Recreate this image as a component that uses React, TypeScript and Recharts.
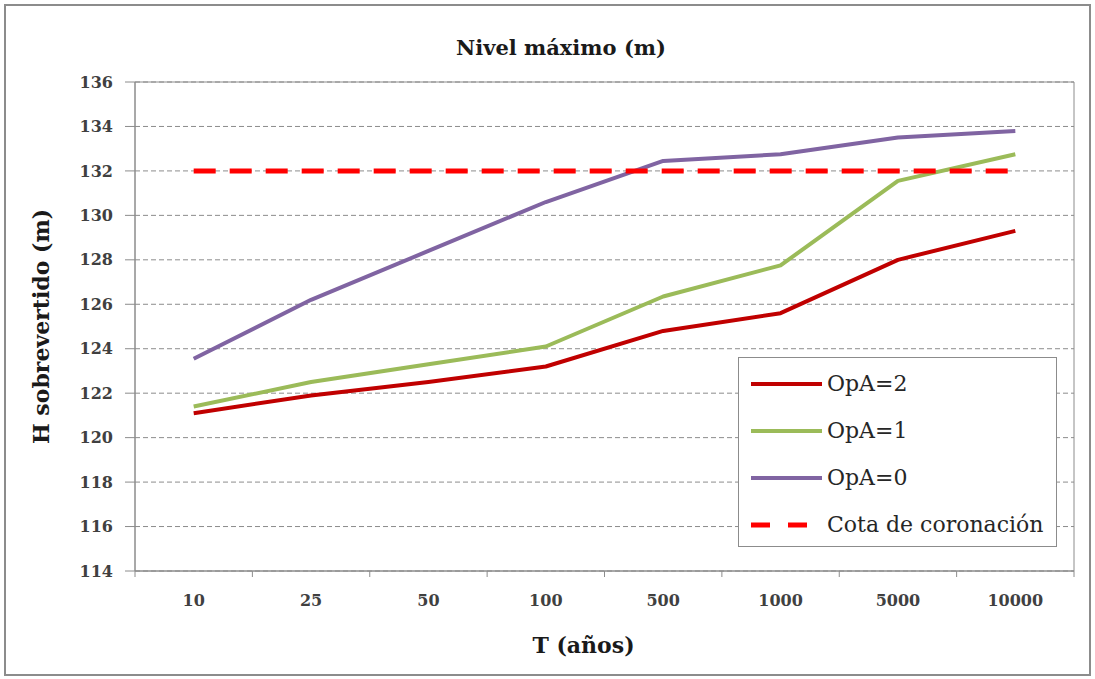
import { LineChart, Line, XAxis, YAxis, CartesianGrid, Legend, ReferenceArea } from 'recharts';

const periods = ['10', '25', '50', '100', '500', '1000', '5000', '10000'];
const opA2 = [121.1, 121.9, 122.5, 123.2, 124.8, 125.6, 128.0, 129.3];
const opA1 = [121.4, 122.5, 123.3, 124.1, 126.35, 127.75, 131.55, 132.75];
const opA0 = [123.55, 126.2, 128.4, 130.6, 132.45, 132.75, 133.5, 133.8];
const cota = [132, 132, 132, 132, 132, 132, 132, 132];
const yTicks = [114, 116, 118, 120, 122, 124, 126, 128, 130, 132, 134, 136];

const series = [
  { key: 'opA2', name: 'OpA=2', color: '#C00000', width: 4, dash: undefined as string | undefined },
  { key: 'opA1', name: 'OpA=1', color: '#9BBB59', width: 4, dash: undefined },
  { key: 'opA0', name: 'OpA=0', color: '#8064A2', width: 4, dash: undefined },
  { key: 'cota', name: 'Cota de coronación', color: '#FF0000', width: 5, dash: '22 14' },
];

// x is a numeric index so band edges (integers) and centres (halves) both exist
const data = periods.map((t, i) => ({
  x: i + 0.5,
  t,
  opA2: opA2[i],
  opA1: opA1[i],
  opA0: opA0[i],
  cota: cota[i],
}));

const xTicks = Array.from({ length: periods.length * 2 + 1 }, (_, i) => i / 2);

const FONT = "'DejaVu Serif', serif";
const GREY = '#8c8c8c';
const X_MARGIN = 24;

function XTick(props: any) {
  const { x, y, payload } = props;
  const v = payload.value as number;
  if (Number.isInteger(v)) {
    return <line x1={x} x2={x} y1={y - X_MARGIN} y2={y - X_MARGIN + 6} stroke={GREY} />;
  }
  return (
    <text x={x} y={y} dy="0.71em" textAnchor="middle" fontFamily={FONT} fontSize={16} fontWeight="bold" fill="#404040">
      {periods[Math.floor(v)]}
    </text>
  );
}

function LegendBox() {
  return (
    <div
      style={{
        boxSizing: 'border-box',
        width: 319,
        height: 190,
        border: `1px solid ${GREY}`,
        background: '#fff',
        paddingTop: 2,
        fontFamily: FONT,
        fontSize: 22,
        color: '#262626',
      }}
    >
      {series.map(s => (
        <div key={s.key} style={{ display: 'flex', alignItems: 'center', height: 47 }}>
          <svg width={72} height={10} style={{ marginLeft: 12 }}>
            {s.dash ? (
              <line x1={0} x2={57} y1={5} y2={5} stroke={s.color} strokeWidth={5} strokeDasharray="19 18" />
            ) : (
              <line x1={0} x2={71} y1={5} y2={5} stroke={s.color} strokeWidth={4} />
            )}
          </svg>
          <span style={{ marginLeft: 4, whiteSpace: 'nowrap' }}>{s.name}</span>
        </div>
      ))}
    </div>
  );
}

export default function App() {
  return (
    <div style={{ position: 'absolute', left: 0, top: 0, width: 1095, height: 679, background: '#fff' }}>
      <div
        style={{
          position: 'absolute',
          left: 4,
          top: 4,
          width: 1087,
          height: 672,
          boxSizing: 'border-box',
          border: `2px solid ${GREY}`,
        }}
      />
      <div
        style={{
          position: 'absolute',
          left: 361,
          top: 36,
          width: 400,
          textAlign: 'center',
          fontFamily: FONT,
          fontWeight: 'bold',
          fontSize: 21,
          lineHeight: '24px',
          color: '#1a1a1a',
        }}
      >
        Nivel máximo (m)
      </div>
      <LineChart width={1095} height={679} data={data} margin={{ top: 82, right: 21, bottom: 0, left: 0 }}>
        <CartesianGrid vertical={false} stroke={GREY} strokeDasharray="5 3" />
        <ReferenceArea x1={0} x2={8} y1={114} y2={136} fill="none" stroke={GREY} strokeWidth={1} />
        <XAxis
          dataKey="x"
          type="number"
          domain={[0, 8]}
          ticks={xTicks}
          interval={0}
          height={108}
          tickLine={false}
          tickSize={0}
          tickMargin={X_MARGIN}
          tick={XTick}
          axisLine={{ stroke: GREY }}
          label={{
            value: 'T (años)',
            position: 'insideBottom',
            offset: 26,
            dx: -21,
            style: { fontFamily: FONT, fontWeight: 'bold', fontSize: 22, fill: '#1a1a1a' },
          }}
        />
        <YAxis
          type="number"
          domain={[114, 136]}
          ticks={yTicks}
          interval={0}
          width={135}
          tickSize={10}
          tickMargin={12}
          tickLine={{ stroke: GREY }}
          axisLine={{ stroke: GREY }}
          tick={{ fontFamily: FONT, fontSize: 16, fontWeight: 'bold', fill: '#404040' }}
          label={{
            value: 'H sobrevertido (m)',
            angle: -90,
            position: 'center',
            dx: -26,
            style: { fontFamily: FONT, fontWeight: 'bold', fontSize: 22, fill: '#1a1a1a', textAnchor: 'middle' },
          }}
        />
        <Legend
          layout="vertical"
          align="center"
          verticalAlign="middle"
          content={() => <LegendBox />}
          wrapperStyle={{ left: 738, top: 357, width: 319, height: 190 }}
        />
        {series.map(s => (
          <Line
            key={s.key}
            type="linear"
            dataKey={s.key}
            name={s.name}
            stroke={s.color}
            strokeWidth={s.width}
            strokeDasharray={s.dash}
            strokeLinejoin="round"
            dot={false}
            activeDot={false}
            isAnimationActive={false}
          />
        ))}
      </LineChart>
    </div>
  );
}
